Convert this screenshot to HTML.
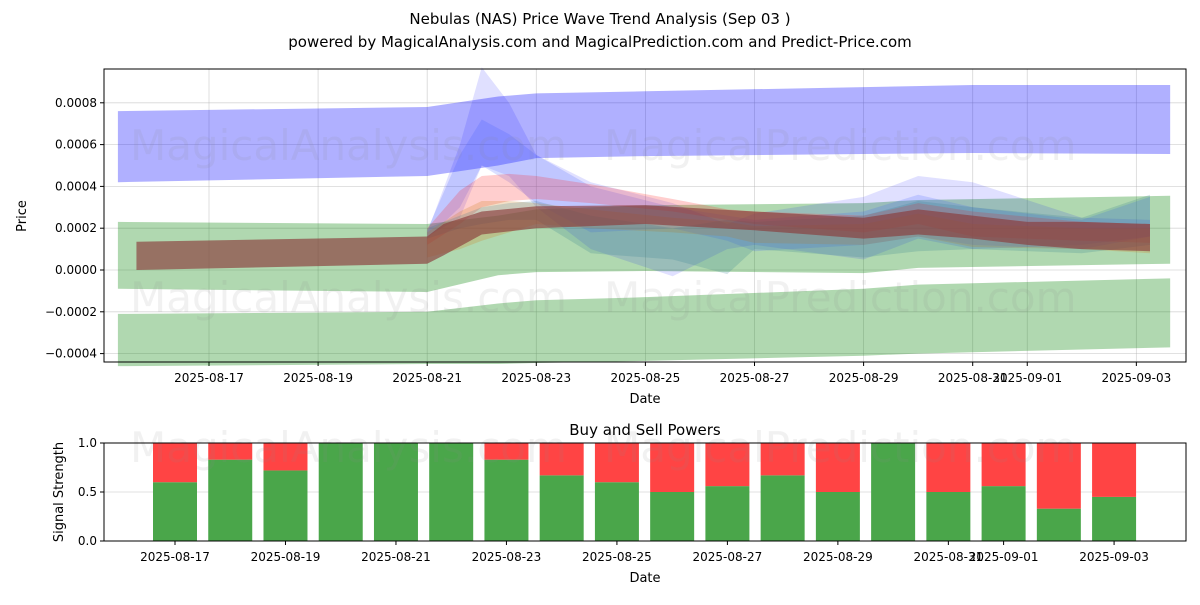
<!DOCTYPE html>
<html><head><meta charset="utf-8"><style>
body{margin:0;background:#fff;font-family:"Liberation Sans","DejaVu Sans",sans-serif;}
svg text{font-family:"DejaVu Sans","Liberation Sans",sans-serif;}
</style></head><body>
<svg id="c" width="1200" height="600" xmlns="http://www.w3.org/2000/svg">
<text x="600" y="24" font-size="15" text-anchor="middle">Nebulas (NAS) Price Wave Trend Analysis (Sep 03 )</text>
<text x="600" y="47" font-size="15" text-anchor="middle">powered by MagicalAnalysis.com and MagicalPrediction.com and Predict-Price.com</text>
<g id="top"></g>
<g id="bot"></g>
</svg>
<script>
// days offset from 2025-08-17; prices in 1e-4
const tickDays=[0,2,4,6,8,10,12,14,15,17];
const tickLabels=["2025-08-17","2025-08-19","2025-08-21","2025-08-23","2025-08-25","2025-08-27","2025-08-29","2025-08-31","2025-09-01","2025-09-03"];
const yTicks=[-4,-2,0,2,4,6,8];
const yTickLabels=["\u22120.0004","\u22120.0002","0.0000","0.0002","0.0004","0.0006","0.0008"];
const blueX=[-1.67,4,5.3,6,8,12,14,17.62];
const blueUp=[7.6,7.8,8.3,8.45,8.55,8.75,8.85,8.85];
const blueLo=[4.2,4.5,5.0,5.35,5.45,5.55,5.6,5.55];
const greenX=[-1.67,4,5.3,6,8,12,13,17.62];
const green1Up=[2.3,2.2,2.6,2.9,3.1,3.2,3.35,3.55];
const green1Lo=[-0.9,-1.05,-0.25,-0.1,-0.05,-0.15,0.1,0.3];
const green2Up=[-2.1,-2.0,-1.6,-1.45,-1.3,-0.9,-0.7,-0.4];
const green2Lo=[-4.6,-4.5,-4.5,-4.45,-4.35,-4.1,-4.0,-3.7];
const waveX=[4,4.6,5,5.5,6,7,8.5,9.5,10,12,13,14,16,17.25];
const wave1Up=[1.8,6,9.7,8,5.5,4.2,3.2,2.2,2.7,3.5,4.5,4.2,2.5,2.4];
const wave1Lo=[1.6,2.5,5.0,4.5,3.0,1.0,-0.3,1.0,1.2,0.5,1.5,1.0,1.2,1.6];
const wave2Up=[1.9,5.5,7.2,6.5,5.5,4.0,3.0,2.6,2.4,2.8,3.6,3.0,2.4,3.5];
const wave2Lo=[1.5,3.0,5.0,4.2,3.2,1.8,2.0,1.4,0.9,1.2,1.6,1.2,1.0,1.6];
const wave3Up=[2.0,3.8,4.5,4.6,4.5,4.1,3.4,2.9,2.8,2.6,3.2,2.8,2.3,2.2];
const wave3Lo=[1.2,2.2,3.0,3.3,3.4,3.2,2.8,2.4,2.2,1.8,2.2,1.6,1.4,1.3];
const wave4Up=[1.8,2.8,3.3,3.3,3.2,2.9,2.5,2.3,2.1,2.2,2.7,2.2,2.0,2.0];
const wave4Lo=[0.6,1.0,1.4,1.8,2.2,2.0,1.8,1.6,1.3,1.2,1.6,1.1,1.0,0.8];
const wave5Up=[2.0,2.6,3.0,3.2,3.3,2.6,2.0,2.4,2.3,2.6,3.3,3.0,2.5,3.6];
const wave5Lo=[1.5,2.0,2.2,2.4,2.4,0.8,0.5,-0.2,1.0,0.6,0.9,1.0,0.8,1.2];
const brownX=[-1.33,4,4.3,5,6,8,10,12,13,14,15,16,17.25];
const brownUp=[1.35,1.6,2.2,2.8,3.05,3.1,2.8,2.5,2.9,2.6,2.3,2.3,2.2];
const brownLo=[0.0,0.3,0.7,1.7,2.0,2.2,1.9,1.5,1.7,1.5,1.2,1.0,0.9];
const barDays=[0,1,2,3,4,5,6,7,8,9,10,11,12,13,14,15,16,17];
const buyVals=[0.6,0.83,0.72,1,1,1,0.83,0.67,0.6,0.5,0.56,0.67,0.5,1,0.5,0.56,0.33,0.45];

const NS="http://www.w3.org/2000/svg";
function mk(p,t,a){const e=document.createElementNS(NS,t);for(const k in a)e.setAttribute(k,a[k]);p.appendChild(e);return e;}
const T=document.getElementById('top'),B=document.getElementById('bot');
const L=104,R=1186,tT=69,tB=362;
const xs=d=>209+d*54.55, ys=v=>270-v*20.9;
tickDays.forEach((d,i)=>{
 const g=mk(T,'line',{x1:xs(d),x2:xs(d),y1:tT,y2:tB,stroke:'#b0b0b0','stroke-width':0.8,'stroke-opacity':0.5});
 
 
 mk(T,'line',{x1:xs(d),x2:xs(d),y1:tB,y2:tB+4,stroke:'#000'});
 const t=mk(T,'text',{x:xs(d),y:tB+20,'font-size':12,'text-anchor':'middle'});t.textContent=tickLabels[i];
 
 
});
yTicks.forEach((v,i)=>{
 const g=mk(T,'line',{x1:L,x2:R,y1:ys(v),y2:ys(v),stroke:'#b0b0b0','stroke-width':0.8,'stroke-opacity':0.5});
 
 
 mk(T,'line',{x1:L-4,x2:L,y1:ys(v),y2:ys(v),stroke:'#000'});
 const t=mk(T,'text',{x:L-7,y:ys(v)+4,'font-size':12,'text-anchor':'end'});t.textContent=yTickLabels[i];
 
 
});
function band(X,U,Lo,col,op,name){
 let p=X.map((d,i)=>xs(d)+','+ys(U[i])).join(' ')+' '+X.map((d,i)=>xs(d)+','+ys(Lo[i])).reverse().join(' ');
 const e=mk(T,'polygon',{points:p,fill:col,'fill-opacity':op});
 
 
}
band(blueX,blueUp,blueLo,'#0000ff',0.31,'upper-blue-band');
band(greenX,green1Up,green1Lo,'#008000',0.31,'upper-green-band');
band(greenX,green2Up,green2Lo,'#008000',0.31,'lower-green-band');
band(waveX,wave1Up,wave1Lo,'#0000ff',0.12,'blue-wave-1');
band(waveX,wave2Up,wave2Lo,'#3355ff',0.18,'blue-wave-2');
band(waveX,wave3Up,wave3Lo,'#ff2020',0.22,'red-wave');
band(waveX,wave4Up,wave4Lo,'#d08020',0.25,'orange-wave');
band(waveX,wave5Up,wave5Lo,'#2a7a8a',0.2,'teal-wave');
band(brownX,brownUp,brownLo,'#8b3a3a',0.65,'main-price-band');
[[130,160,'MagicalAnalysis.com'],[130,312,'MagicalAnalysis.com'],[604,160,'MagicalPrediction.com'],[604,312,'MagicalPrediction.com']].forEach(w=>{
 const t=mk(T,'text',{x:w[0],y:w[1],'font-size':42,fill:'#888','fill-opacity':0.12});t.textContent=w[2];
 
 
});
mk(T,'rect',{x:L,y:tT,width:R-L,height:tB-tT,fill:'none',stroke:'#000','stroke-width':1});
let t=mk(T,'text',{x:645,y:403,'font-size':13,'text-anchor':'middle'});t.textContent='Date';


t=mk(T,'text',{x:26,y:216,'font-size':13,'text-anchor':'middle',transform:'rotate(-90 26 216)'});t.textContent='Price';



const bT=443,bB=541;
const bx=d=>175+d*55.24, by=v=>bB-v*98;
[0,0.5,1].forEach(v=>{
 mk(B,'line',{x1:L,x2:R,y1:by(v),y2:by(v),stroke:'#b0b0b0','stroke-width':0.8,'stroke-opacity':0.5});
 mk(B,'line',{x1:L-4,x2:L,y1:by(v),y2:by(v),stroke:'#000'});
 const t=mk(B,'text',{x:L-7,y:by(v)+4,'font-size':12,'text-anchor':'end'});t.textContent=v.toFixed(1);
 
 
});
barDays.forEach((d,i)=>{
 const g=mk(B,'rect',{x:bx(d)-22,y:by(buyVals[i]),width:44,height:by(0)-by(buyVals[i]),fill:'#4aa64a'});
 
 
 const r=mk(B,'rect',{x:bx(d)-22,y:by(1),width:44,height:by(buyVals[i])-by(1),fill:'#ff4444'});
 
 
});
tickDays.forEach((d,i)=>{
 mk(B,'line',{x1:bx(d),x2:bx(d),y1:bB,y2:bB+4,stroke:'#000'});
 const t=mk(B,'text',{x:bx(d),y:bB+20,'font-size':12,'text-anchor':'middle'});t.textContent=tickLabels[i];
 
 
});
[[130,462,'MagicalAnalysis.com'],[604,462,'MagicalPrediction.com']].forEach(w=>{
 const t=mk(B,'text',{x:w[0],y:w[1],'font-size':42,fill:'#888','fill-opacity':0.12});t.textContent=w[2];
 
 
});
mk(B,'rect',{x:L,y:bT,width:R-L,height:bB-bT,fill:'none',stroke:'#000','stroke-width':1});
t=mk(B,'text',{x:645,y:435,'font-size':15,'text-anchor':'middle'});t.textContent='Buy and Sell Powers';


t=mk(B,'text',{x:645,y:582,'font-size':13,'text-anchor':'middle'});t.textContent='Date';


t=mk(B,'text',{x:63,y:492,'font-size':13,'text-anchor':'middle',transform:'rotate(-90 63 492)'});t.textContent='Signal Strength';


</script>
</body></html>
